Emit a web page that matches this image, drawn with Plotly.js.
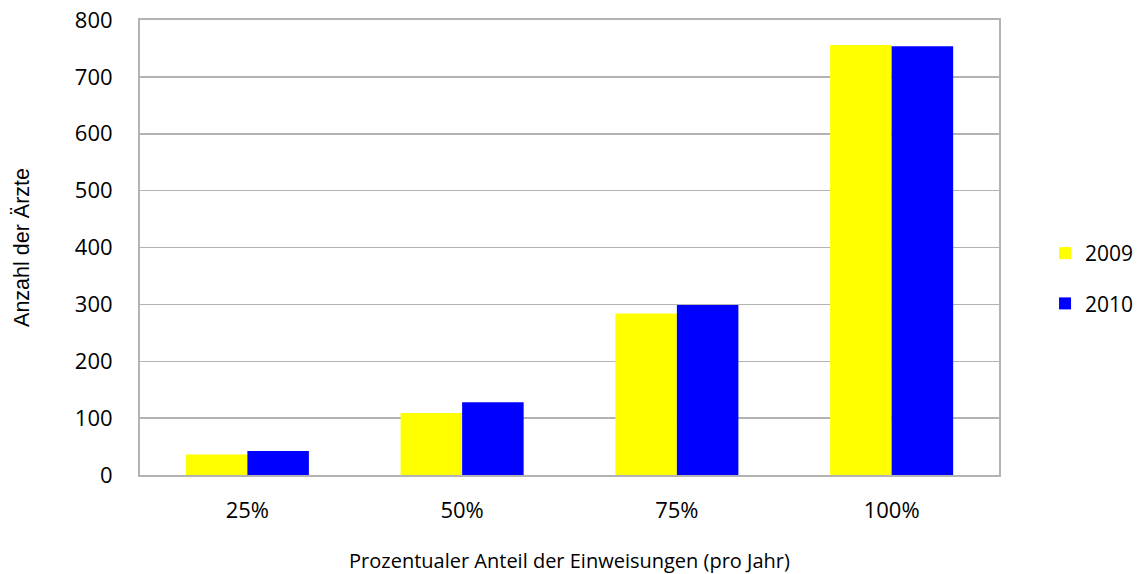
<!DOCTYPE html>
<html>
<head>
<meta charset="utf-8">
<script src="https://cdn.plot.ly/plotly-3.0.1.min.js"></script>
<style>
  html, body { margin: 0; padding: 0; background: #fff; }
  #chart { width: 1140px; height: 574px; }
</style>
</head>
<body>
<div id="chart"></div>
<script>
// Anteil der Einweisungen pro Jahr
const categories = ['25%', '50%', '75%', '100%'];
const values2009 = [36, 109, 284, 756];
const values2010 = [42, 128, 299, 754];
const yTicks = [0, 100, 200, 300, 400, 500, 600, 700, 800];

const tickFont = { family: 'Open Sans, Lato, sans-serif', size: 22, color: '#000' };

const traces = [
  {
    type: 'bar', name: '2009', x: categories, y: values2009,
    marker: { color: '#ffff00', line: { width: 0 } },
    legendgroup: 'a'
  },
  {
    type: 'bar', name: '2010', x: categories, y: values2010,
    marker: { color: '#0000ff', line: { width: 0 } },
    legendgroup: 'b'
  }
];

const layout = {
  width: 1140, height: 574,
  margin: { l: 140, r: 141, t: 20, b: 99, autoexpand: false },
  paper_bgcolor: '#fff', plot_bgcolor: '#fff',
  barmode: 'group', bargap: 0.427, bargroupgap: 0,
  showlegend: true,
  legend: {
    x: 1.0536, xanchor: 'left', y: 0.532, yanchor: 'top',
    font: { family: 'Open Sans, Lato, sans-serif', size: 21, color: '#000' },
    tracegroupgap: 20, itemwidth: 30
  },
  xaxis: {
    type: 'category', automargin: false,
    showline: true, linecolor: '#b3b3b3', linewidth: 2, mirror: true,
    ticks: '', tickfont: tickFont, ticklabelstandoff: 15,
    title: { text: 'Prozentualer Anteil der Einweisungen (pro Jahr)', font: { family: 'Open Sans, Lato, sans-serif', size: 20, color: '#000' }, standoff: 40 }
  },
  yaxis: {
    range: [0, 800], tickvals: yTicks, ticktext: yTicks.map(String), automargin: false,
    showgrid: true, gridcolor: '#b3b3b3', gridwidth: 1.5,
    showline: true, linecolor: '#b3b3b3', linewidth: 2, mirror: true,
    zeroline: false, ticks: 'outside', ticklen: 0, tickfont: tickFont,
    ticklabelstandoff: 21,
    title: { text: 'Anzahl der Ärzte', font: { family: 'Liberation Sans, Arial, sans-serif', size: 21.5, color: '#000' }, standoff: 39 }
  }
};

Plotly.newPlot('chart', traces, layout, { displayModeBar: false, staticPlot: true });
</script>
</body>
</html>
